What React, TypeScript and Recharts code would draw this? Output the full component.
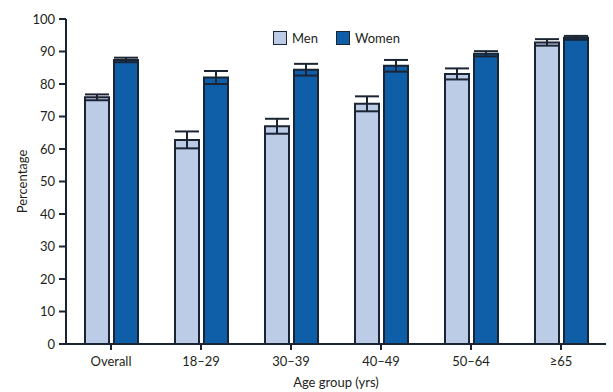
import React from "react";
import { BarChart, Bar, XAxis, YAxis, ErrorBar } from "recharts";

const categories = ["Overall", "18–29", "30–39", "40–49", "50–64", "≥65"];
const menValues = [75.9, 62.8, 67.0, 73.9, 83.1, 92.8];
const menErrors = [0.9, 2.6, 2.3, 2.3, 1.7, 1.0];
const womenValues = [87.4, 82.0, 84.4, 85.6, 89.3, 94.2];
const womenErrors = [0.7, 2.0, 1.8, 1.8, 0.8, 0.6];
const yTicks = [0, 10, 20, 30, 40, 50, 60, 70, 80, 90, 100];

const MEN_FILL = "#bccbe6";
const WOMEN_FILL = "#0f5fa8";
const EDGE = "#1b2433";
const INK = "#231f20";
const FONT = "Lato, 'Open Sans', sans-serif";

const data = categories.map((name, i) => ({
    name,
    men: menValues[i],
    menErr: menErrors[i],
    women: womenValues[i],
    womenErr: womenErrors[i],
}));

// legend sits inside the plot box, so it's laid over the chart instead of using <Legend>
const LegendBox = () => (
    <div style={{ position: "absolute", top: 30, left: 273, display: "flex", alignItems: "center",
        fontFamily: FONT, fontSize: 13, color: INK }}>
        <span style={{ width: 12, height: 12, background: MEN_FILL, border: `1.5px solid ${EDGE}`, display: "inline-block" }} />
        <span style={{ marginLeft: 5 }}>Men</span>
        <span style={{ width: 12, height: 12, background: WOMEN_FILL, border: `1.5px solid ${EDGE}`, display: "inline-block", marginLeft: 18 }} />
        <span style={{ marginLeft: 5 }}>Women</span>
    </div>
);

const YLabel = ({ viewBox }: any) => {
    const x = 22;
    const y = viewBox.y + viewBox.height / 2;
    return (
        <text x={x} y={y} transform={`rotate(-90, ${x}, ${y})`} textAnchor="middle" dominantBaseline="central"
            fill={INK} fontSize={13} fontFamily={FONT}>
            Percentage
        </text>
    );
};

const App: React.FC = () => {
    const tickStyle = { fill: INK, fontSize: 13, fontFamily: FONT };
    return (
        <div style={{ position: "relative", width: 613, height: 392, background: "#fff" }}>
            <style>{`body{margin:0}`}</style>
            <BarChart width={613} height={392} data={data} margin={{ top: 19, right: 7, left: 0, bottom: 0 }}
                barGap={5} barCategoryGap="20%">
                <XAxis dataKey="name" height={48} tick={tickStyle} tickLine={{ stroke: EDGE, strokeWidth: 2 }}
                    tickSize={6} tickMargin={7} axisLine={{ stroke: EDGE, strokeWidth: 2 }}
                    label={{ value: "Age group (yrs)", position: "insideBottom", offset: 5, fill: INK, fontSize: 13, fontFamily: FONT }} />
                <XAxis xAxisId="top" orientation="top" dataKey="name" height={0} tick={false} tickLine={false}
                    axisLine={{ stroke: EDGE, strokeWidth: 2 }} />
                <YAxis width={66} domain={[0, 100]} ticks={yTicks} interval={0} tick={tickStyle}
                    tickLine={{ stroke: EDGE, strokeWidth: 2 }} tickSize={7} tickMargin={4}
                    axisLine={{ stroke: EDGE, strokeWidth: 2 }} label={<YLabel />} />
                <YAxis yAxisId="right" orientation="right" width={0} domain={[0, 100]} tick={false} tickLine={false}
                    axisLine={{ stroke: EDGE, strokeWidth: 2 }} />
                <Bar dataKey="men" name="Men" fill={MEN_FILL} stroke={EDGE} strokeWidth={2} barSize={24} isAnimationActive={false}>
                    <ErrorBar dataKey="menErr" direction="y" width={12} stroke={EDGE} strokeWidth={2} />
                </Bar>
                <Bar dataKey="women" name="Women" fill={WOMEN_FILL} stroke={EDGE} strokeWidth={2} barSize={24} isAnimationActive={false}>
                    <ErrorBar dataKey="womenErr" direction="y" width={12} stroke={EDGE} strokeWidth={2} />
                </Bar>
            </BarChart>
            <LegendBox />
        </div>
    );
};

export default App;
